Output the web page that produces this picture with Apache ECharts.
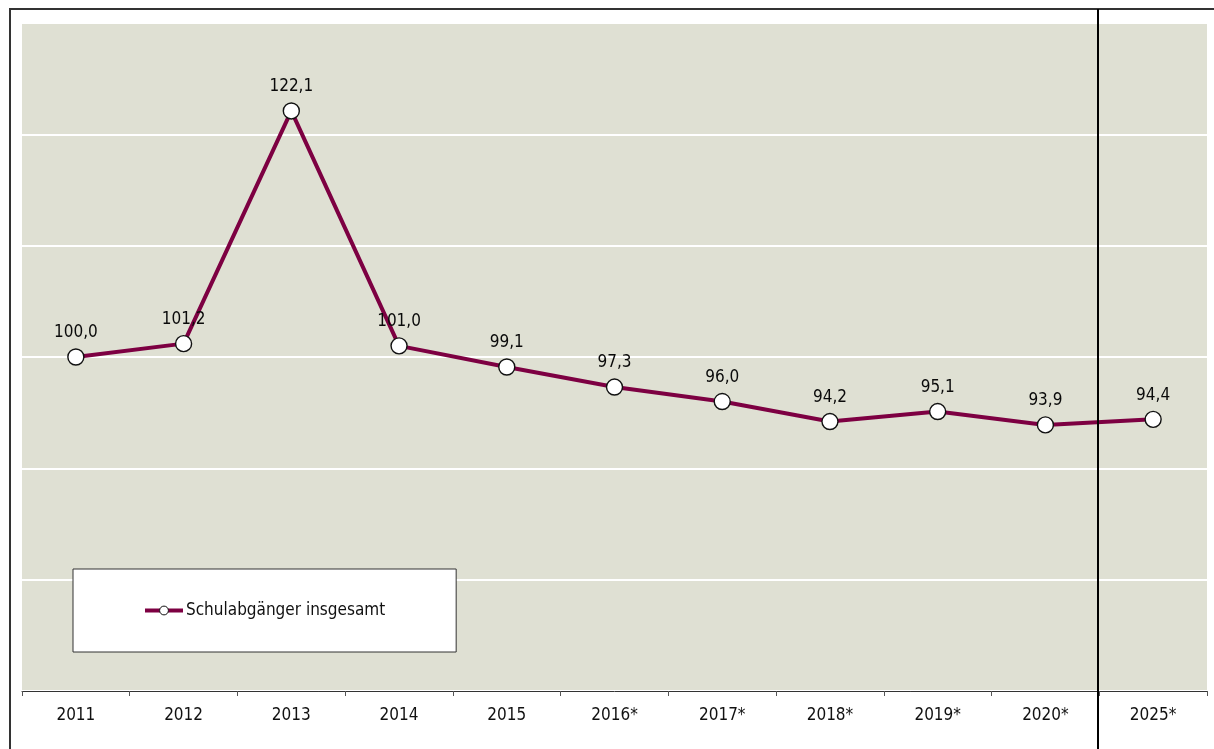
<!DOCTYPE html>
<html>
<head>
<meta charset="utf-8">
<script src="https://cdn.jsdelivr.net/npm/echarts@6/dist/echarts.min.js"></script>
<style>
  html, body { margin: 0; padding: 0; background: #fff; }
  #frame { position: absolute; left: 9px; top: 8px; width: 1214px; height: 760px;
           border-left: 2px solid #333; border-top: 2px solid #333; box-sizing: border-box; }
  #chart { position: absolute; left: 0; top: 0; width: 1214px; height: 749px; }
</style>
</head>
<body>
<div id="frame"></div>
<div id="chart"></div>
<script>
// Schulabgänger insgesamt, index 2011 = 100
const years = ['2011', '2012', '2013', '2014', '2015', '2016*', '2017*', '2018*', '2019*', '2020*', '2025*'];
const schulabgaenger = [100.0, 101.2, 122.1, 101.0, 99.1, 97.3, 96.0, 94.2, 95.1, 93.9, 94.4];
const seriesName = 'Schulabgänger insgesamt';

const FONT = '"DejaVu Sans Condensed", "DejaVu Sans", sans-serif';
const chart = echarts.init(document.getElementById('chart'), null, { renderer: 'canvas' });

chart.setOption({
  animation: false,
  backgroundColor: 'transparent',
  grid: {
    left: 22, right: 7, top: 23, bottom: 58,
    show: true, backgroundColor: '#dfe0d3', borderWidth: 0
  },
  legend: {
    data: [seriesName],
    left: 73, top: 569,
    orient: 'horizontal',
    backgroundColor: '#fff',
    borderColor: '#333', borderWidth: 1,
    padding: [33, 71, 33, 70],
    itemWidth: 38, itemHeight: 11,
    lineStyle: { width: 4, color: '#7d0042' },
    itemStyle: { color: '#fff', borderColor: '#111', borderWidth: 1 },
    textStyle: { fontFamily: FONT, fontSize: 17, color: '#111', padding: [0, 0, 0, -2] }
  },
  xAxis: {
    type: 'category',
    data: years,
    boundaryGap: true,
    axisLine: { lineStyle: { color: '#333', width: 1 } },
    axisTick: { show: true, length: 5, lineStyle: { color: '#555' } },
    axisLabel: { margin: 16, fontFamily: FONT, fontSize: 17, color: '#111' },
    splitLine: { show: false }
  },
  yAxis: {
    type: 'value',
    min: 70, max: 130, interval: 10,
    axisLine: { show: false },
    axisTick: { show: false },
    axisLabel: { show: false },
    splitLine: { show: true, lineStyle: { color: '#ffffff', width: 2 } }
  },
  series: [{
    name: seriesName,
    type: 'line',
    data: schulabgaenger,
    lineStyle: { color: '#7d0042', width: 4 },
    itemStyle: { color: '#ffffff', borderColor: '#111', borderWidth: 1.4 },
    symbol: 'circle',
    symbolSize: 16,
    label: {
      show: true, position: 'top', distance: 7,
      fontFamily: FONT, fontSize: 17, color: '#0a0a0a',
      formatter: p => p.value.toFixed(1).replace('.', ',')
    },
    z: 3
  }]
});

// Separator between the observed years and the 2025 projection
const x9 = chart.convertToPixel({ xAxisIndex: 0 }, 9);
const x10 = chart.convertToPixel({ xAxisIndex: 0 }, 10);
const sepX = Math.round((x9 + x10) / 2) - 1;
chart.setOption({
  graphic: [{
    type: 'line',
    z: 10,
    shape: { x1: sepX, y1: 9, x2: sepX, y2: 749 },
    style: { stroke: '#000', lineWidth: 2 }
  }]
});
</script>
</body>
</html>
